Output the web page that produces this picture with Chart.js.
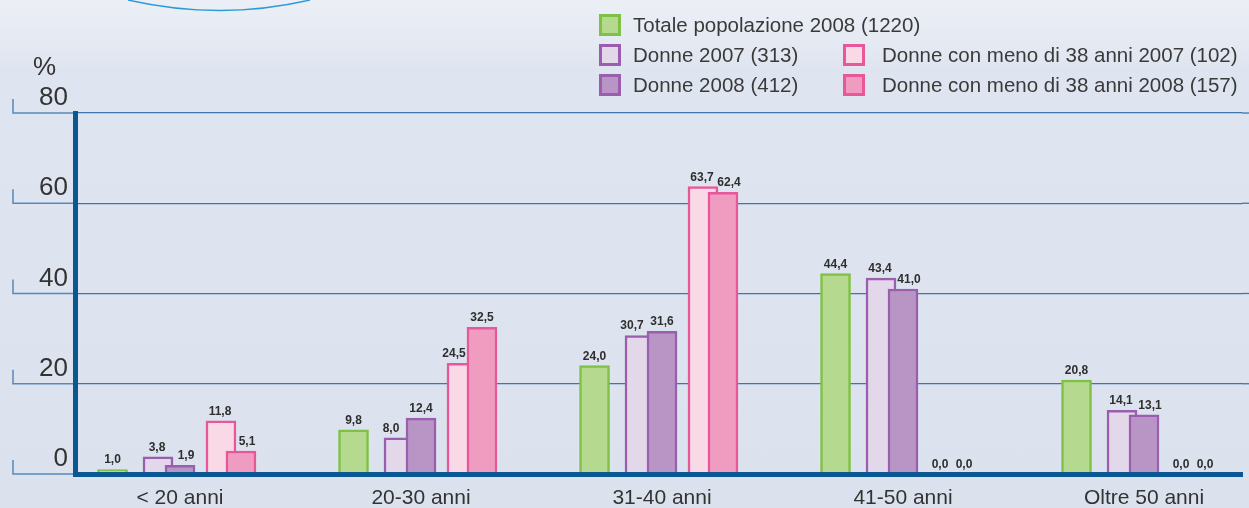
<!DOCTYPE html>
<html>
<head>
<meta charset="utf-8">
<script src="https://cdn.jsdelivr.net/npm/chart.js@4.4.1/dist/chart.umd.min.js"></script>
<style>
  html, body { margin: 0; padding: 0; }
  body {
    width: 1249px; height: 508px; overflow: hidden; position: relative;
    background: linear-gradient(to bottom, #eceff6 0px, #dfe5f0 70px, #dbe2ee 508px);
    font-family: "Liberation Sans", Arial, sans-serif;
  }
  #chart { position: absolute; left: 0; top: 0; }
  #legend { position: absolute; left: 0; top: 0; }
  .item { position: absolute; display: flex; align-items: center; height: 22px; }
  .box { width: 22px; height: 22px; box-sizing: border-box; border: 3px solid; }
  .txt { font-size: 20.5px; color: #3a3a3a; white-space: nowrap; }
</style>
</head>
<body>
<canvas id="chart" width="1249" height="508"></canvas>
<div id="legend"></div>
<script>
const categories = ['< 20 anni', '20-30 anni', '31-40 anni', '41-50 anni', 'Oltre 50 anni'];
const totale2008 = [1.0, 9.8, 24.0, 44.4, 20.8];
const donne2007 = [3.8, 8.0, 30.7, 43.4, 14.1];
const donne2008 = [1.9, 12.4, 31.6, 41.0, 13.1];
const under38_2007 = [11.8, 24.5, 63.7, 0.0, 0.0];
const under38_2008 = [5.1, 32.5, 62.4, 0.0, 0.0];
const yTicks = [0, 20, 40, 60, 80];

// x range in "group" units, bars offset inside each group
const xMin = -0.4357, xMax = 4.4066;
const toPoints = arr => arr.map((v, i) => ({ x: i, y: v }));

const series = [
  { label: 'Totale popolazione 2008 (1220)', data: totale2008, fill: '#b5da8f', line: '#7fc143', off: -0.280, order: 0, legend: [599, 14, 12] },
  { label: 'Donne 2007 (313)', data: donne2007, fill: '#e3d7ea', line: '#9b5eae', off: -0.0913, order: 1, legend: [599, 44, 12], pair: 2, role: 'light' },
  { label: 'Donne 2008 (412)', data: donne2008, fill: '#b895c5', line: '#9b5eae', off: 0, order: 0, legend: [599, 74, 12], pair: 1, role: 'dark' },
  { label: 'Donne con meno di 38 anni 2007 (102)', data: under38_2007, fill: '#f9d9e6', line: '#e9579b', off: 0.170, order: 1, legend: [843, 44, 17], pair: 4, role: 'light' },
  { label: 'Donne con meno di 38 anni 2008 (157)', data: under38_2008, fill: '#f09cc1', line: '#e9579b', off: 0.253, order: 0, legend: [843, 74, 17], pair: 3, role: 'dark' },
];

const scales = {
  x: {
    type: 'linear', min: xMin, max: xMax, offset: false,
    grid: { display: false, drawTicks: false, offset: false },
    border: { display: true, color: '#0b5791', width: 5, z: 1 },
    afterBuildTicks: s => { s.ticks = categories.map((c, i) => ({ value: i })); },
    afterFit: s => { s.height = 34; },
    ticks: {
      padding: 12, color: '#333', autoSkip: false, maxRotation: 0,
      font: { family: '"Liberation Sans", Arial, sans-serif', size: 21 },
      callback: v => categories[v],
    },
  },
  y: {
    min: 0, max: 80,
    afterBuildTicks: s => { s.ticks = yTicks.map(v => ({ value: v })); },
    afterFit: s => { s.width = 75; },
    grid: { color: '#3c76ad', lineWidth: 1.3, drawTicks: false },
    border: { display: true, color: '#0b5791', width: 5, z: 1 },
    ticks: {
      padding: 7, labelOffset: -15, color: '#333',
      font: { family: '"Liberation Sans", Arial, sans-serif', size: 26 },
    },
  },
};
series.forEach((s, k) => {
  scales['x' + k] = {
    type: 'linear', display: false, offset: false,
    grid: { offset: false },
    min: xMin - s.off, max: xMax - s.off,
  };
});

const fmt = v => v.toFixed(1).replace('.', ',');

// nudge value labels of overlapping pairs so they don't collide
function labelShift(s, i) {
  if (s.pair === undefined) return 0;
  const v = s.data[i], other = series[s.pair].data[i];
  if (s.role === 'light') return other > v ? -8 : (other === v ? -4 : -1);
  return v < other ? 6 : 0;
}

const decor = {
  id: 'decor',
  beforeDraw(chart) {
    const c = chart.ctx;
    c.save();
    c.strokeStyle = '#2b9bd8';
    c.lineWidth = 1.5;
    c.beginPath();
    c.moveTo(128, 0);
    c.quadraticCurveTo(220, 21, 310, 0);
    c.stroke();
    c.restore();
  },
  beforeDatasetsDraw(chart) {
    const c = chart.ctx, y = chart.scales.y, area = chart.chartArea;
    c.save();
    yTicks.forEach(v => {
      const py = y.getPixelForValue(v);
      c.strokeStyle = '#5689ba';
      c.lineWidth = 1.5;
      c.beginPath();
      c.moveTo(13, py - 14);
      c.lineTo(13, py);
      c.lineTo(area.left, py);
      c.stroke();
      if (v > 0) {
        c.strokeStyle = '#3c76ad';
        c.lineWidth = 1.3;
        c.beginPath();
        c.moveTo(area.right, py);
        c.lineTo(chart.width, py);
        c.stroke();
      }
    });
    c.fillStyle = '#333';
    c.font = '26px "Liberation Sans", Arial, sans-serif';
    c.textAlign = 'left';
    c.textBaseline = 'alphabetic';
    c.fillText('%', 33, 75);
    c.restore();
  },
  afterDatasetsDraw(chart) {
    const c = chart.ctx;
    c.save();
    c.fillStyle = '#2e2e2e';
    c.font = 'bold 12px "Liberation Sans", Arial, sans-serif';
    c.textAlign = 'center';
    c.textBaseline = 'alphabetic';
    series.forEach((s, k) => {
      const meta = chart.getDatasetMeta(k);
      meta.data.forEach((el, i) => {
        c.fillText(fmt(s.data[i]), el.x + labelShift(s, i), el.y - 6);
      });
    });
    c.restore();
  },
};

new Chart(document.getElementById('chart'), {
  type: 'bar',
  data: {
    datasets: series.map((s, k) => ({
      label: s.label,
      data: toPoints(s.data),
      xAxisID: 'x' + k,
      backgroundColor: s.fill,
      borderColor: s.line,
      borderWidth: 2.5,
      grouped: false,
      barPercentage: 1,
      categoryPercentage: 1,
      maxBarThickness: 30,
      order: s.order,
    })),
  },
  options: {
    responsive: false,
    animation: false,
    devicePixelRatio: 1,
    layout: { padding: { top: 113, right: 7, left: 0, bottom: 0 } },
    plugins: { legend: { display: false }, tooltip: { enabled: false } },
    scales,
  },
  plugins: [decor],
});

// legend in three rows / two columns
const legend = document.getElementById('legend');
series.forEach(s => {
  const [left, top, gap] = s.legend;
  const item = document.createElement('div');
  item.className = 'item';
  item.style.left = left + 'px';
  item.style.top = top + 'px';
  item.innerHTML = `<span class="box" style="background:${s.fill};border-color:${s.line}"></span>` +
    `<span class="txt" style="margin-left:${gap}px">${s.label}</span>`;
  legend.appendChild(item);
});
</script>
</body>
</html>
